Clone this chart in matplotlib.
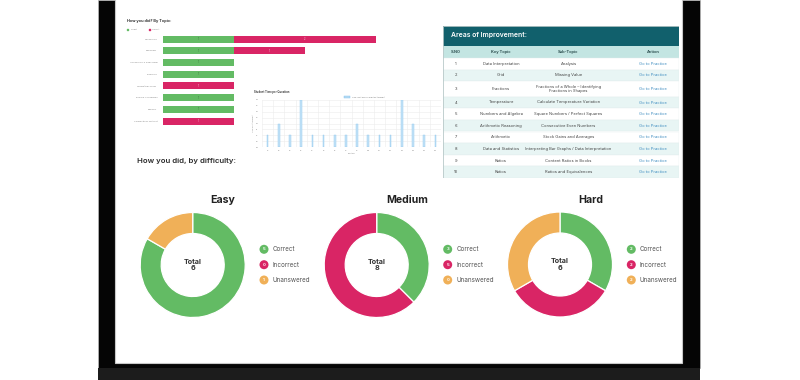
import matplotlib
matplotlib.use("Agg")
import matplotlib.pyplot as plt
from matplotlib.patches import Rectangle
import numpy as np

plt.rcParams['font.family'] = ['Inter', 'DejaVu Sans']

W, H, DPI = 800, 380, 100

# ---------------- data ----------------
topic_names = ["Vocabulary", "Analogies", "Vocabulary & Reasoning", "Diagrams",
               "Coding/Decoding", "English Vocabulary", "Analogy", "Connectives Without"]
topic_correct = [1, 1, 1, 1, 0, 1, 1, 0]
topic_incorrect = [2, 1, 0, 0, 1, 0, 0, 1]

question_labels = [f"Q{i}" for i in range(1, 17)]
question_time = [1, 2, 1, 4, 1, 1, 1, 1, 2, 1, 1, 1, 4, 2, 1, 1]
time_ticks = [0, 0.5, 1, 1.5, 2, 2.5, 3, 3.5, 4]

difficulty_names = ["Easy", "Medium", "Hard"]
difficulty_correct = [5, 3, 2]
difficulty_incorrect = [0, 5, 2]
difficulty_unanswered = [1, 0, 2]
status_labels = ["Correct", "Incorrect", "Unanswered"]

table_columns = ["S.NO", "Key Topic", "Sub-Topic", "Action"]
table_sno = [str(i) for i in range(1, 11)]
table_key_topic = ["Data Interpretation", "Grid", "Fractions", "Temperature",
                   "Numbers and Algebra", "Arithmetic Reasoning", "Arithmetic",
                   "Data and Statistics", "Ratios", "Ratios"]
table_sub_topic = ["Analysis", "Missing Value",
                   "Fractions of a Whole – Identifying\nFractions in Shapes",
                   "Calculate Temperature Variation", "Square Numbers / Perfect Squares",
                   "Consecutive Even Numbers", "Stock Gains and Averages",
                   "Interpreting Bar Graphs / Data Interpretation",
                   "Content Ratios in Books", "Ratios and Equivalences"]
table_action = ["Go to Practice"] * 10

# ---------------- style ----------------
GREEN = "#63bb64"
RED = "#d92565"
ORANGE = "#f0b058"
TEAL = "#11606c"
TEAL_LIGHT = "#c3e5e2"
STRIPE = "#e8f5f4"

fig = plt.figure(figsize=(W / DPI, H / DPI), dpi=DPI)
fig.patch.set_facecolor("white")


def px_axes(x0, y0, x1, y1, **kw):
    return fig.add_axes([x0 / W, 1 - y1 / H, (x1 - x0) / W, (y1 - y0) / H], **kw)


# background in pixel coordinates
bg = fig.add_axes([0, 0, 1, 1])
bg.set_xlim(0, W)
bg.set_ylim(H, 0)
bg.axis("off")
bg.add_patch(Rectangle((98, 0), 602, 368, facecolor="#050505", edgecolor="#bbbbbb", lw=0.5))
bg.add_patch(Rectangle((98, 368), 602, 12, facecolor="#1c1c1c", edgecolor="none"))
bg.add_patch(Rectangle((115, -2), 567, 365, facecolor="white", edgecolor="#c8c8c8", lw=0.8))

# ---------------- topic bar chart ----------------
bg.text(127, 21, "How you did? By Topic:", fontsize=2.8, fontweight="bold",
        color="#333333", va="center", ha="left")
bg.scatter([127.7, 149.3], [29.5, 29.5], s=1.2, marker="s", c=[GREEN, RED])
bg.text(130.5, 29.5, "Correct", fontsize=1.4, color="#777777", va="center")
bg.text(151.5, 29.5, "Incorrect", fontsize=1.4, color="#777777", va="center")

axb = px_axes(163, 33.2, 376, 126.9)
axb.patch.set_alpha(0)
y = np.arange(len(topic_names))
axb.barh(y, topic_correct, height=0.6, color=GREEN)
axb.barh(y, topic_incorrect, left=topic_correct, height=0.6, color=RED)
for yi, c, inc in zip(y, topic_correct, topic_incorrect):
    if c:
        axb.text(c / 2, yi, str(c), fontsize=1.8, color="#3d6e3d", ha="center", va="center")
    if inc:
        axb.text(c + inc / 2, yi, str(inc), fontsize=1.8, color="#f6d0dd", ha="center", va="center")
axb.set_xlim(0, 3)
axb.set_ylim(len(topic_names) - 0.5, -0.5)
axb.set_yticks(y)
axb.set_yticklabels(topic_names, fontsize=1.75, color="#888888")
axb.tick_params(axis="y", length=0, pad=4)
axb.set_xticks([])
for s in axb.spines.values():
    s.set_visible(False)

# ---------------- time per question chart ----------------
bg.text(254, 91.5, "Student Time per Question", fontsize=2.0, fontweight="bold",
        color="#444444", va="center", ha="left")
bg.add_patch(Rectangle((344.3, 96.2), 5.7, 1.8, facecolor="#b8dcf4", edgecolor="#7fc0ec", lw=0.3))
bg.text(351.5, 97.1, "Time Spent on Each Question (seconds)", fontsize=1.25,
        color="#777777", va="center", ha="left")

axt = px_axes(262, 100, 441, 147)
axt.patch.set_alpha(0)
xq = np.arange(1, len(question_time) + 1)
axt.bar(xq, question_time, width=0.15, color="#c6e3f7", edgecolor="#8cc7ee", lw=0.3)
axt.set_xlim(0.5, len(question_time) + 0.5)
axt.set_ylim(0, 4)
axt.set_yticks(time_ticks)
axt.set_yticklabels([f"{t:.1f}" for t in time_ticks], fontsize=1.2, color="#888888")
axt.set_xticks(xq)
axt.set_xticklabels(question_labels, fontsize=1.2, color="#888888")
axt.set_xticks(np.arange(0.5, len(question_time) + 1), minor=True)
axt.tick_params(which="both", length=0, pad=2.5)
axt.grid(axis="y", color="#ececec", lw=0.4)
axt.grid(axis="x", which="minor", color="#ececec", lw=0.4)
axt.set_axisbelow(True)
for s in axt.spines.values():
    s.set_visible(False)
axt.set_ylabel("Time Spent (seconds)", fontsize=1.2, color="#888888", labelpad=1.5)
axt.set_xlabel("Questions", fontsize=1.2, color="#888888", labelpad=1)

# ---------------- table ----------------
tx0, ty0, tx1 = 443, 26, 679
title_h, head_h, row_h, extra_h = 20, 12, 11.6, 3.9
heights = [row_h + extra_h * (s.count("\n")) for s in table_sub_topic]
total_h = title_h + head_h + sum(heights)
axtab = px_axes(tx0, ty0, tx1, ty0 + total_h)
axtab.set_xlim(0, 1)
axtab.set_ylim(total_h, 0)
axtab.axis("off")
col_x = [0.054, 0.246, 0.532, 0.891]
axtab.add_patch(Rectangle((0, 0), 1, title_h, facecolor=TEAL, edgecolor="none"))
axtab.text(0.034, title_h / 2 - 0.5, "Areas of Improvement:", fontsize=4.9, color="white",
           fontweight="semibold", va="center", ha="left")
axtab.add_patch(Rectangle((0, title_h), 1, head_h, facecolor=TEAL_LIGHT, edgecolor="none"))
for cx, name in zip(col_x, table_columns):
    axtab.text(cx, title_h + head_h / 2, name, fontsize=2.9, fontweight="bold",
               color="#335555", ha="center", va="center")
ycur = title_h + head_h
for i, h in enumerate(heights):
    fc = STRIPE if i % 2 == 1 else "white"
    axtab.add_patch(Rectangle((0, ycur), 1, h, facecolor=fc, edgecolor="#e3eeee", lw=0.3))
    yc = ycur + h / 2
    vals = [table_sno[i], table_key_topic[i], table_sub_topic[i], table_action[i]]
    for j, (cx, v) in enumerate(zip(col_x, vals)):
        axtab.text(cx, yc, v, fontsize=2.95, color="#3d8cc0" if j == 3 else "#444444",
                   ha="center", va="center", linespacing=1.25)
    ycur += h
axtab.add_patch(Rectangle((0, 0), 1, total_h, facecolor="none", edgecolor="#b9c9c9", lw=0.6))

# ---------------- difficulty donuts ----------------
bg.text(137, 161.5, "How you did, by difficulty:", fontsize=5.6, fontweight="semibold",
        color="#2b2b2b", va="center", ha="left")

centers = [(192.7, 265), (376.7, 265), (560.0, 264.5)]
title_x = [223, 407, 591]
legend_x = [264, 447.7, 631.3]
legend_y = [249.3, 264.7, 280.0]
colors = [GREEN, RED, ORANGE]
R = 52.5
for i, name in enumerate(difficulty_names):
    vals = [difficulty_correct[i], difficulty_incorrect[i], difficulty_unanswered[i]]
    cx, cy = centers[i]
    ax = px_axes(cx - R, cy - R, cx + R, cy + R)
    ax.patch.set_alpha(0)
    nz_vals = [v for v in vals if v > 0]
    nz_cols = [c for v, c in zip(vals, colors) if v > 0]
    ax.pie(nz_vals, colors=nz_cols, startangle=90, counterclock=False, radius=1,
           wedgeprops=dict(width=0.4, edgecolor="white", linewidth=0.9))
    ax.set_xlim(-1, 1)
    ax.set_ylim(-1, 1)
    ax.set_aspect("equal")
    ax.axis("off")
    ax.text(0, 0, f"Total\n{sum(vals)}", fontsize=5.2, fontweight="bold",
            color="#333333", ha="center", va="center", linespacing=1.1)
    bg.text(title_x[i], 200, name, fontsize=7.6, fontweight="bold", color="#222222",
            ha="center", va="center")
    bg.scatter([legend_x[i]] * 3, legend_y, s=42, c=colors, edgecolors="none", zorder=3)
    for ly, v, lab in zip(legend_y, vals, status_labels):
        bg.text(legend_x[i], ly + 0.2, str(v), fontsize=3.0, fontweight="bold", color="white",
                ha="center", va="center", zorder=4)
        bg.text(legend_x[i] + 8.5, ly, lab, fontsize=4.5, color="#555555",
                ha="left", va="center")

fig.savefig("out.png", dpi=DPI)
